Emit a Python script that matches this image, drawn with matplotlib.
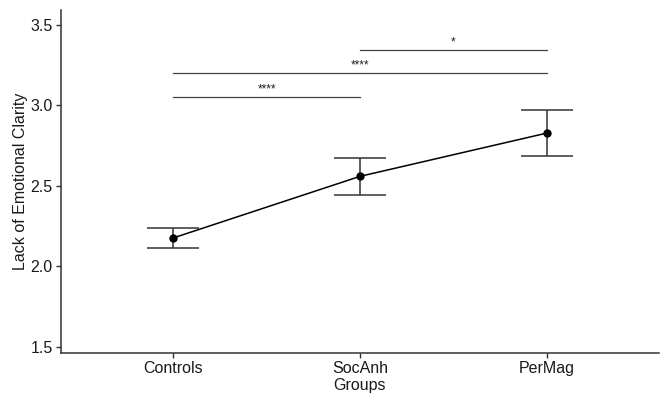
#!/usr/bin/env python

'''
group means of lack of emotional clarity with error bars and significance brackets
'''

import matplotlib
matplotlib.use('Agg')
import matplotlib.pyplot as plt

plt.rcParams['font.family'] = ['Liberation Sans', 'DejaVu Sans']

GROUPS = ['Controls', 'SocAnh', 'PerMag']
MEANS = [2.176, 2.559, 2.828]
UPPER = [2.240, 2.673, 2.973]
LOWER = [2.112, 2.445, 2.683]

# significance brackets: (start group, end group, height, label)
SIG_START = [1, 1, 2]
SIG_END = [2, 3, 3]
SIG_Y = [3.052, 3.199, 3.342]
SIG_LABEL = ['****', '****', '*']

Y_TICKS = [1.5, 2.0, 2.5, 3.0, 3.5]
IMG_FILE = 'out.png'

AXIS_COLOR = '#333333'


def make_png(imgfile=IMG_FILE):
    fig = plt.figure(figsize=(6.62, 4.01), dpi=100)
    ax = fig.add_axes([61 / 662, (401 - 353) / 401, 598 / 662, 343 / 401])

    x = list(range(1, len(GROUPS) + 1))
    yerr = [[m - lo for m, lo in zip(MEANS, LOWER)],
            [up - m for m, up in zip(MEANS, UPPER)]]

    ax.errorbar(x, MEANS, yerr=yerr, fmt='none', ecolor='#333333',
                elinewidth=1.1, capsize=18.5, capthick=1.1, zorder=2)
    ax.plot(x, MEANS, color='black', linewidth=1.1, zorder=3)
    ax.plot(x, MEANS, 'o', color='black', markersize=5, zorder=4)

    for x0, x1, y, lab in zip(SIG_START, SIG_END, SIG_Y, SIG_LABEL):
        ax.plot([x0, x1], [y, y], color='#444444', linewidth=0.9)
        ax.text((x0 + x1) / 2, y + 0.01, lab, ha='center', va='bottom',
                fontsize=8.5, color='#222222')

    ax.set_xlim(0.4, 3.6)
    ax.set_ylim(1.461, 3.593)
    ax.set_xticks(x)
    ax.set_xticklabels(GROUPS)
    ax.set_yticks(Y_TICKS)
    ax.set_yticklabels(['%.1f' % v for v in Y_TICKS])

    for side in ('top', 'right'):
        ax.spines[side].set_visible(False)
    for side in ('left', 'bottom'):
        ax.spines[side].set_color(AXIS_COLOR)
        ax.spines[side].set_linewidth(1.1)
    ax.tick_params(axis='both', colors=AXIS_COLOR, length=3.5, width=1.0,
                   labelsize=11.5, labelcolor='#1a1a1a', pad=2.5)

    ax.set_xlabel('Groups', fontsize=11.5, color='#1a1a1a', labelpad=1)
    ax.set_ylabel('Lack of Emotional Clarity', fontsize=11.5, color='#1a1a1a',
                  labelpad=1.5)

    fig.savefig(imgfile, dpi=100)
    plt.close(fig)
    return imgfile


if __name__ == '__main__':
    make_png()
